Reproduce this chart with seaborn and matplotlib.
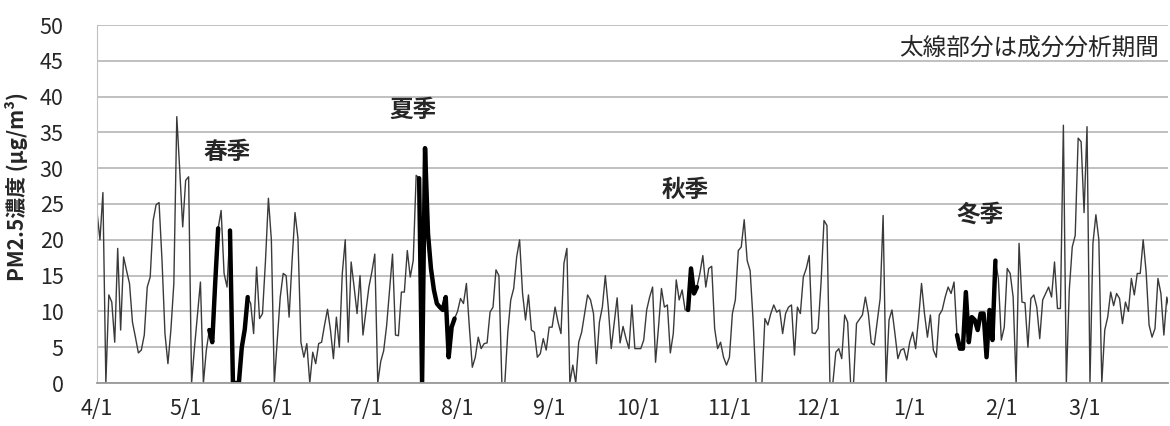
import numpy as np
import pandas as pd
import matplotlib
matplotlib.use("Agg")
import matplotlib.pyplot as plt
import matplotlib.dates as mdates
import seaborn as sns

# daily PM2.5 (ug/m3), fiscal year starting 4/1
apr = [23.9, 20, 26.6, 0, 12.3, 11.3, 5.7, 18.8, 7.4, 17.6,
       15.7, 13.9, 8.5, 6.4, 4.2, 4.6, 6.7, 13.4, 14.8, 22.7,
       24.9, 25.2, 17.1, 6.9, 2.7, 7.4, 13.9, 37.2, 29.7, 21.8]
may = [28.3, 28.8, 0, 5, 9.5, 14.1, 0, 4.6, 7.4, 5.7,
       14, 21.6, 24.1, 15.3, 13.4, 21.3, 0, 0, 0, 5,
       7.5, 12, 11.1, 6.9, 16.2, 9, 9.7, 17, 25.8, 20, 0]
jun = [6, 12, 15.3, 15, 9.2, 17, 23.8, 20.2, 5.7, 3.6,
       5.5, 0, 4.3, 2.7, 5.5, 5.7, 8.1, 10.3, 7.4, 3.4,
       9.2, 5, 15.3, 20, 5.7, 16.9, 13.4, 9.7, 15, 6.7]
jul = [10, 13.4, 15.5, 18, 0, 3, 4.5, 8, 13, 18,
       6.7, 6.6, 12.7, 12.7, 18.5, 14.8, 17.1, 29, 28.6, 0,
       32.8, 20.9, 16, 13, 11.1, 10.6, 10.2, 12, 3.6, 7.8, 9]
aug = [10, 11.8, 11.1, 13.9, 7.8, 2.2, 3.6, 6.4, 4.8, 5.5,
       5.6, 9.9, 10.6, 15.8, 15, 0, 0, 7.1, 11.6, 13.2,
       17.6, 20, 12.5, 8.8, 12.3, 7.4, 7.1, 3.6, 4.1, 6.2, 4.6]
sep = [7.8, 7.8, 10.6, 8.5, 6.9, 16.7, 18.8, 0, 2.5, 0,
       5.7, 7.1, 9.7, 12.3, 11.6, 9.7, 2.7, 8.5, 10.6, 15,
       10.6, 4.8, 8.3, 11.9, 5.6, 7.9, 6.2, 4.8, 10.9, 4.8]
oct_ = [4.8, 4.8, 6, 10.2, 12, 13.4, 2.9, 7.8, 13.2, 10.6,
        10.9, 4.2, 6.9, 14.4, 11.6, 13, 10.2, 10.2, 16, 12.5,
        13.4, 15.3, 17.8, 13.4, 16, 16.3, 7.6, 4.8, 5.7, 3.6, 2.5]
nov = [3.6, 9.7, 11.6, 18.5, 19, 22.8, 17.1, 15.7, 8.8, 0,
       0, 0, 9, 8.1, 9.7, 10.9, 9.9, 10.2, 6.9, 9.7,
       10.6, 10.9, 3.9, 10.6, 9.7, 14.8, 16, 17.8, 7, 6.9]
dec = [7.6, 14, 22.7, 22, 0, 0, 4.3, 4.8, 3.4, 9.5,
       8.5, 0, 0, 8.3, 8.9, 9.5, 12, 9.7, 5.6, 5.3,
       8.5, 11.8, 23.4, 0, 8.8, 10.2, 6.9, 3.4, 4.6, 4.8, 3.2]
jan = [5.7, 7.1, 4.8, 9, 13.9, 9.7, 6.4, 9.5, 4.6, 3.6,
       9.5, 10.2, 12, 13.4, 12.5, 14.1, 6.7, 4.8, 4.8, 12.7,
       5.7, 9.2, 8.8, 7.4, 9.7, 9.7, 3.6, 10.2, 6, 17.1, 14.6]
feb = [6, 7.8, 16, 15.3, 12, 0, 19.5, 11.3, 11.2, 5,
       11.8, 12.3, 10.6, 6.2, 11.6, 12.5, 13.4, 12, 16.9, 10.4,
       10.4, 36, 0, 13, 19, 20.6, 34.2, 33.7]
mar = [23.8, 35.8, 0, 19.5, 23.5, 20, 0, 7.4, 9.2, 12.7,
       10.8, 12.5, 11.8, 8.3, 11.3, 10, 14.6, 12.3, 15.3, 15.3,
       20, 15.5, 8.1, 6.4, 7.6, 14.6, 12.5, 6.7, 12, 10, 9]

pm25 = apr + may + jun + jul + aug + sep + oct_ + nov + dec + jan + feb + mar
dates = pd.date_range("2013-04-01", periods=len(pm25), freq="D")

# component analysis periods (drawn bold)
thick_periods = [("2013-05-09", "2013-05-12"), ("2013-05-16", "2013-05-22"),
                 ("2013-07-19", "2013-07-31"), ("2013-10-18", "2013-10-21"),
                 ("2014-01-17", "2014-01-30")]

season_names = ["春季", "夏季", "秋季", "冬季"]
season_dates = ["2013-05-15", "2013-07-17", "2013-10-17", "2014-01-25"]
season_y = [32.3, 38.2, 27.0, 23.5]

month_ticks = pd.date_range("2013-04-01", "2014-03-01", freq="MS")
month_labels = [f"{d.month}/1" for d in month_ticks]

sns.set_style("white")
plt.rcParams['font.family'] = ['Noto Sans CJK JP', 'DejaVu Sans']

df = pd.DataFrame({"date": dates, "pm": pm25})

fig = plt.figure(figsize=(11.7, 4.26), dpi=100)
ax = fig.add_axes([97 / 1170, 1 - 383 / 426, (1168 - 97) / 1170, (383 - 25) / 426])

sns.lineplot(data=df, x="date", y="pm", color="#3a3a3a", linewidth=1.0, ax=ax)
for start, end in thick_periods:
    seg = df[(df["date"] >= start) & (df["date"] <= end)]
    sns.lineplot(data=seg, x="date", y="pm", color="black", linewidth=3.2, ax=ax)

ax.set_ylim(0, 50)
ax.set_yticks(np.arange(0, 51, 5))
x0 = mdates.date2num(dates[0])
ax.set_xlim(x0, x0 + 362.4)
ax.set_xticks(month_ticks)
ax.set_xticklabels(month_labels)

ax.yaxis.grid(True, color="#c0c0c0", linewidth=1.4)
ax.set_axisbelow(True)
for side in ["top", "right"]:
    ax.spines[side].set_visible(False)
ax.spines["left"].set_color("#c0c0c0")
ax.spines["bottom"].set_color("#9a9a9a")
ax.spines["bottom"].set_linewidth(1.3)
ax.tick_params(axis="x", direction="out", length=6, color="#9a9a9a", labelsize=15.5, pad=5)
ax.tick_params(axis="y", length=0, labelsize=15.5, pad=24)

ax.set_xlabel("")
ax.set_ylabel("PM2.5濃度 (μg/m³)", fontsize=15, fontweight="bold")
ax.yaxis.set_label_coords(-0.064, 0.55)

for name, d, y in zip(season_names, season_dates, season_y):
    ax.text(pd.Timestamp(d), y, name, ha="center", va="center",
            fontsize=17, fontweight="bold")

ax.text(0.992, 0.935, "太線部分は成分分析期間", transform=ax.transAxes,
        ha="right", va="center", fontsize=17)

fig.savefig("out.png", dpi=100)
